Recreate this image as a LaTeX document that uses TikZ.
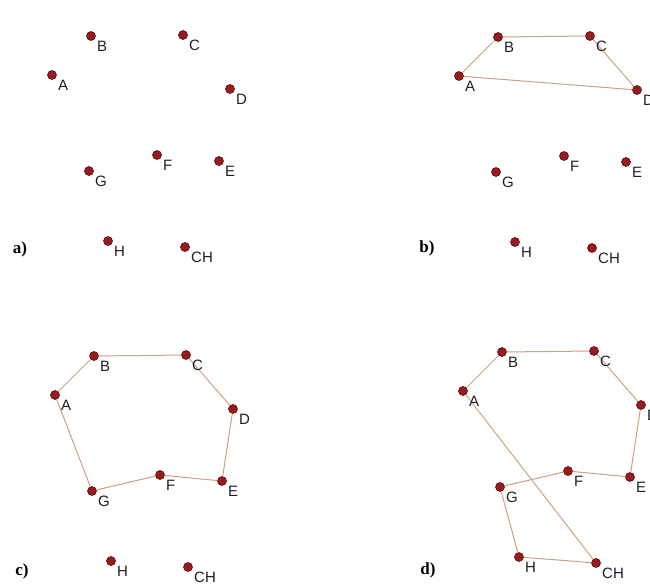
\documentclass[tikz,border=0pt]{standalone}
\usepackage{fontspec}
\setmainfont{Liberation Sans}
\newfontfamily\panelfont{Liberation Serif}
\definecolor{dotred}{RGB}{150,28,32}
\definecolor{dotedge}{RGB}{95,12,16}
\definecolor{edgecol}{RGB}{205,160,130}
\definecolor{labcol}{RGB}{30,30,40}
\begin{document}
\begin{tikzpicture}[x=1pt,y=-1pt,
  pt/.style={circle,fill=dotred,draw=dotedge,line width=0.6pt,minimum size=9pt,inner sep=0pt},
  lab/.style={anchor=north west,inner sep=0pt,font=\fontsize{15}{15}\selectfont,text=labcol,xshift=6pt,yshift=-5pt},
  panel/.style={inner sep=0pt,font=\panelfont\bfseries\fontsize{17}{17}\selectfont},
  edge/.style={draw=edgecol,line width=1pt}]
\useasboundingbox (0,0) rectangle (650,587);
\foreach \p/\dx/\dy in {a/0/0,b/407/1,c/3/320,d/411/316}{
  \begin{scope}[shift={(\dx,\dy)}]
    \foreach \n/\x/\y in {A/52/75,B/91/36,C/183/35,D/230/89,E/219/161,F/157/155,G/89/171,H/108/241,CH/185/247}{
      \node[pt] (\p\n) at (\x,\y) {};
    }
  \end{scope}
}
% panel b
\draw[edge] (bA) -- (bB) -- (bC) -- (bD) -- (bA);
% panel c
\draw[edge] (cA) -- (cB) -- (cC) -- (cD) -- (cE) -- (cF) -- (cG) -- (cA);
% panel d
\draw[edge] (dA) -- (dB) -- (dC) -- (dD) -- (dE) -- (dF) -- (dG) -- (dH) -- (dCH) -- (dA);
% labels
\foreach \p in {a,b,c,d}{
  \foreach \n in {A,B,C,D,E,F,G,H,CH}{
    \node[lab] (\p\n l) at (\p\n) {\n};
  }
}
\node[panel] (pa) at (20,249) {a)};
\node[panel] (pb) at (427,248) {b)};
\node[panel] (pc) at (22,571) {c)};
\node[panel] (pd) at (428,570) {d)};
\end{tikzpicture}
\end{document}
